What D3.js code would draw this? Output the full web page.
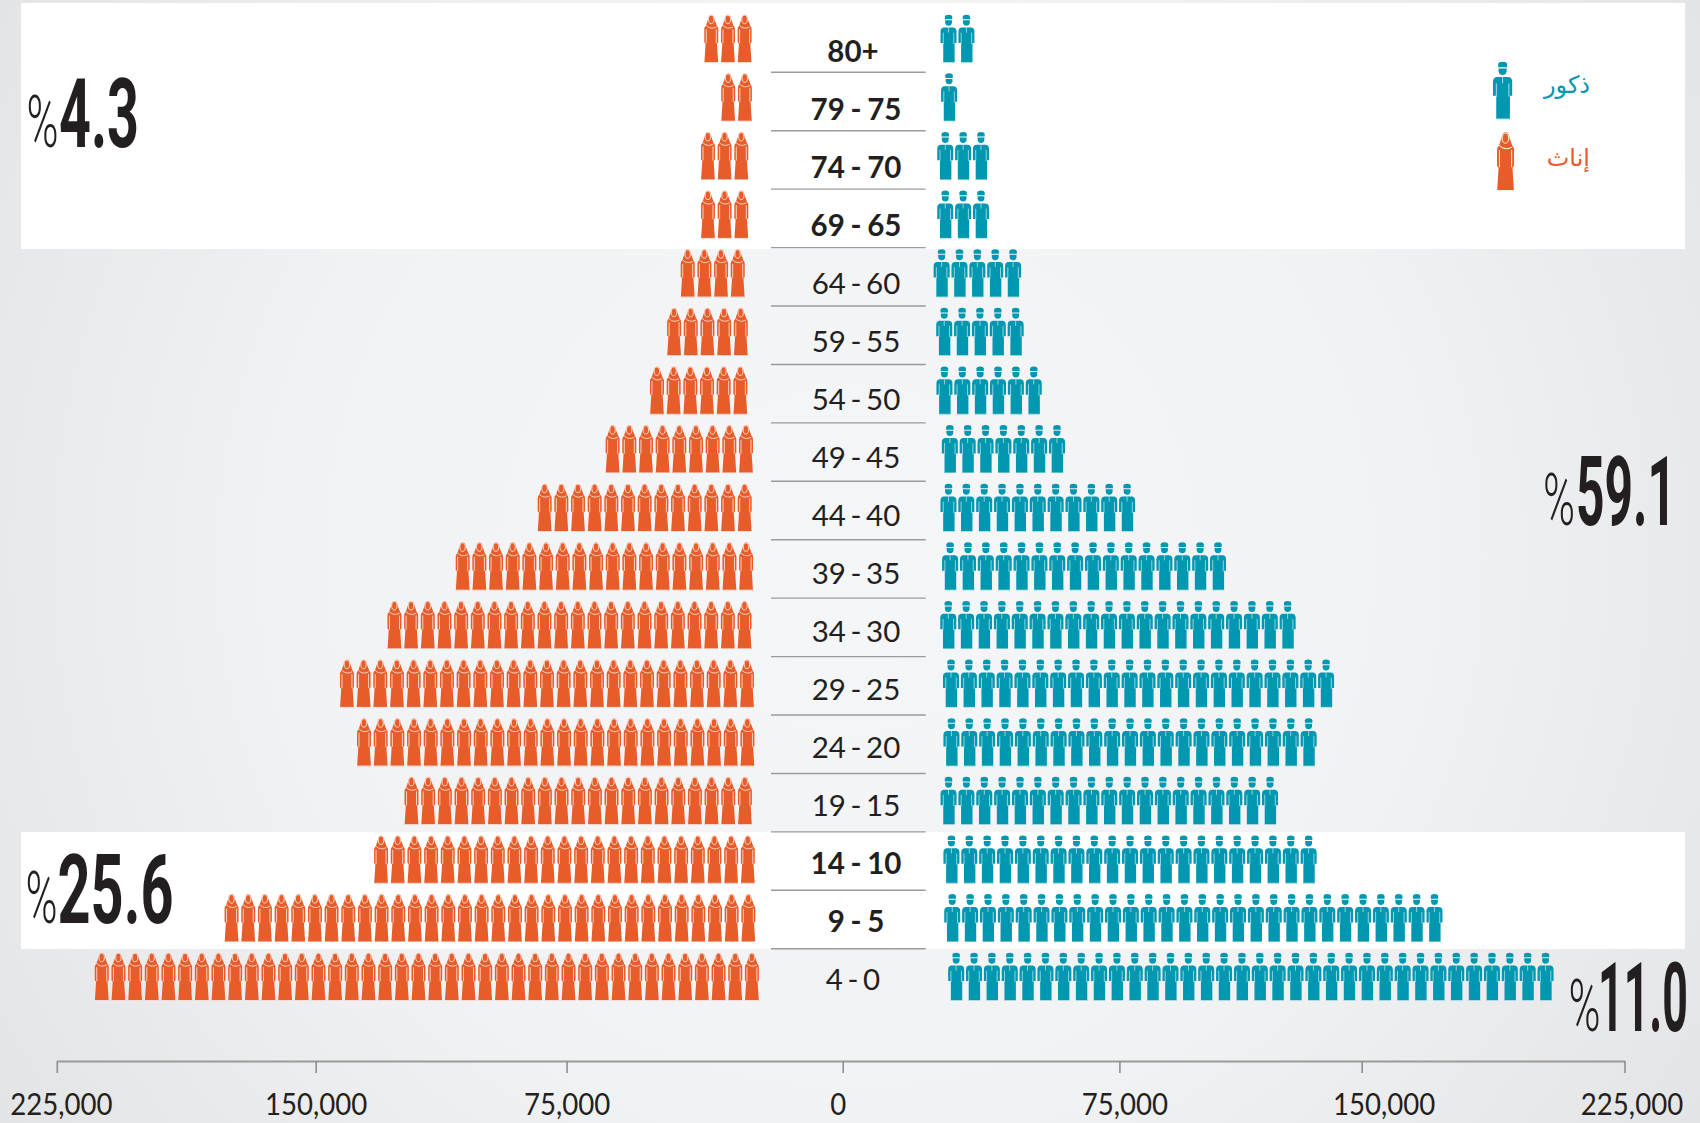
<!DOCTYPE html>
<html lang="ar">
<head>
<meta charset="utf-8">
<title>الهرم السكاني</title>
<script src="https://cdn.jsdelivr.net/npm/d3@7"></script>
<style>
html,body{margin:0;padding:0;background:#eceded}
svg{display:block}
text{fill:#231f20}
</style>
</head>
<body>
<svg id="chart" width="1700" height="1123" viewBox="0 0 1700 1123"></svg>
<script>
// ---- data ----
const ageGroups = ['80+','79 - 75','74 - 70','69 - 65','64 - 60','59 - 55','54 - 50','49 - 45','44 - 40','39 - 35','34 - 30','29 - 25','24 - 20','19 - 15','14 - 10','9 - 5','4 - 0'];
const femaleValues = [37600,33000,38500,38500,44000,47700,52350,64400,83650,108150,128550,142750,137650,123450,132550,176400,214000];
const maleValues   = [35700,31000,39650,39650,48350,49050,53950,60250,79850,108000,129550,141450,136050,124100,136050,173050,204750];
const femaleIcons  = [3,2,3,3,4,5,6,9,13,18,22,25,24,21,23,32,40];
const maleIcons    = [2,1,3,3,5,5,6,7,11,16,20,22,21,19,21,28,34];
const boldGroups   = ['80+','79 - 75','74 - 70','69 - 65','14 - 10','9 - 5'];
const tickValues   = [-225000,-150000,-75000,0,75000,150000,225000];
const shareLabels  = ['4.3','59.1','25.6','11.0'];
const legendLabels = ['ذكور','إناث'];

// ---- layout ----
const W = 1700, H = 1123;
const ORANGE = '#e85c2a', TEAL = '#0097b0', INK = '#231f20';
const femalePitch = 16.67, malePitch = 17.86, maleWidth = 16;
const svg = d3.select('#chart');
const defs = svg.append('defs');

const bg = defs.append('radialGradient').attr('id','bg').attr('gradientUnits','userSpaceOnUse')
  .attr('cx',850).attr('cy',560).attr('r',1020);
bg.append('stop').attr('offset','0').attr('stop-color','#f5f6f8');
bg.append('stop').attr('offset','0.55').attr('stop-color','#f1f2f3');
bg.append('stop').attr('offset','1').attr('stop-color','#e3e4e6');
svg.append('rect').attr('width',W).attr('height',H).attr('fill','url(#bg)');

// white bands
[[3,246],[832,117]].forEach(([y,h]) =>
  svg.append('rect').attr('x',21).attr('y',y).attr('width',1664).attr('height',h).attr('fill','#fff'));

// ---- icons (48 px tall, origin at top-left) ----
const pale = '#ffffff';
const maleG = defs.append('g').attr('id','maleIcon').attr('fill',TEAL);
maleG.append('path').attr('d','M4.3,4.6 V2 Q4.6,0 8,0 Q11.4,0 11.7,2 V4.6 Z');
maleG.append('path').attr('d','M4.6,5.6 H11.4 V8 Q11,11 8,11 Q5,11 4.6,8 Z');
maleG.append('path').attr('d','M3,12.8 H13 Q16,13.2 16,17 V28.4 H14.1 V48 H2.7 V28.4 H0 V17 Q0,13.2 3,12.8 Z');
maleG.append('path').attr('d','M2.75,18 V29.2 M13.25,18 V29.2 M8,12.8 V18 M2.7,47.8 H14.1')
  .attr('fill','none').attr('stroke',pale).attr('stroke-opacity',.72).attr('stroke-width',.8);

const femaleG = defs.append('g').attr('id','femaleIcon').attr('fill',ORANGE);
femaleG.append('path').attr('d','M7,0 C9.2,0 10,2.2 10.4,5 L12.6,11 Q14,12 14,14.5 V27.6 L12.7,29 L13.9,48 H0.1 L1.3,29 L0,27.6 V14.5 Q0,12 1.6,11 L3.6,5 C4,2.2 4.9,0 7,0 Z');
femaleG.append('ellipse').attr('cx',6.9).attr('cy',4.8).attr('rx',2.7).attr('ry',4.2)
  .attr('fill',ORANGE).attr('stroke',pale).attr('stroke-opacity',.85).attr('stroke-width',.9);
femaleG.append('path').attr('d','M1.8,10.6 Q6,15.4 12.2,12.2 M2,14.5 V28.6 M12,14.5 V28.6 M0.1,47.8 H13.9')
  .attr('fill','none').attr('stroke',pale).attr('stroke-opacity',.85).attr('stroke-width',.85);

// ---- scales ----
const x = d3.scaleLinear().domain(tickValues).range([56.8,315.7,566.6,842.7,1119.4,1361.7,1624.5]);
const rowY = d3.scalePoint().domain(ageGroups).range([62.7,1000.7]);
const labelY = d3.scalePoint().domain(ageGroups).range([62,990]);
const ruleY = d3.scalePoint().domain(ageGroups).range([72.3,72.3+58.43*16]);

// ---- separators ----
svg.append('g').selectAll('line').data(ageGroups.slice(0,-1)).join('line')
  .attr('x1',771).attr('x2',925.7).attr('y1',d=>ruleY(d)).attr('y2',d=>ruleY(d))
  .attr('stroke','#9b9b9b').attr('stroke-width',1.4);

// ---- age labels ----
const labelShift = {'80+':-3,'4 - 0':-3};
svg.append('g').selectAll('text').data(ageGroups).join('text')
  .attr('x',d=>856+(labelShift[d]||0)).attr('y',d=>labelY(d))
  .attr('text-anchor','middle').attr('direction','ltr')
  .attr('font-family','Lato, "Noto Sans", sans-serif').attr('font-size',29.5)
  .attr('font-weight',d=>boldGroups.includes(d)?700:400)
  .attr('word-spacing',d=>boldGroups.includes(d)?-1.5:-3)
  .text(d=>d);

// ---- pictogram rows ----
const femaleRows = svg.append('g').selectAll('g').data(ageGroups).join('g')
  .attr('transform',(d,i)=>`translate(${x(-femaleValues[i])},${rowY(d)-48})`);
femaleRows.selectAll('use').data((d,i)=>d3.range(femaleIcons[i])).join('use')
  .attr('href','#femaleIcon').attr('x',k=>k*femalePitch);

const maleRows = svg.append('g').selectAll('g').data(ageGroups).join('g')
  .attr('transform',(d,i)=>`translate(${x(maleValues[i])-maleWidth},${rowY(d)-48})`);
maleRows.selectAll('use').data((d,i)=>d3.range(maleIcons[i])).join('use')
  .attr('href','#maleIcon').attr('x',k=>-k*malePitch);

// ---- axis ----
const tickLabelShift = new Map([[-225000,4],[-150000,0],[-75000,0],[0,-5],[75000,5],[150000,22],[225000,7]]);
const axis = d3.axisBottom(x).tickValues(tickValues).tickSize(12).tickSizeOuter(0)
  .tickFormat(d=>d3.format(',')(Math.abs(d)));
const axisG = svg.append('g').attr('transform','translate(0,1061)').call(axis);
axisG.select('.domain').attr('stroke','#9a9a9a').attr('stroke-width',2.2);
axisG.selectAll('.tick line').attr('stroke','#8f8f8f').attr('stroke-width',1.6);
axisG.selectAll('.tick text')
  .attr('y',54).attr('dy',0).attr('x',d=>tickLabelShift.get(d))
  .attr('font-family','Lato, "Noto Sans", sans-serif').attr('font-size',30).attr('fill',INK)
  .attr('lengthAdjust','spacingAndGlyphs')
  .each(function(){ d3.select(this).attr('textLength', this.getComputedTextLength()*0.92); });

// ---- big share figures: squeezed horizontally to the widths in the picture ----
const sharePlace = [
  {px:26.5,pw:32, dx:59,    dw:80,  y:146.7},
  {px:1543,pw:32, dx:1576,  dw:100, y:525},
  {px:25.5,pw:32, dx:57.5,  dw:116, y:923},
  {px:1568.5,pw:32,dx:1598, dw:90,  y:1031}
];
function squeeze(sel, xKey, wKey){
  sel.each(function(d,i){
    const p = sharePlace[i];
    const sx = p[wKey] / this.getComputedTextLength();
    d3.select(this).attr('transform',`translate(${p[xKey]},${p.y}) scale(${sx},1)`);
  });
}
const shares = svg.append('g').selectAll('g').data(shareLabels).join('g');
shares.append('text').text('%')
  .attr('font-family','Roboto, sans-serif').attr('font-weight',300).attr('font-size',73)
  .call(squeeze,'px','pw');
shares.append('text').text(d=>d)
  .attr('font-family','Roboto, sans-serif').attr('font-weight',700).attr('font-size',97)
  .call(squeeze,'dx','dw');

// ---- legend ----
const legend = svg.append('g');
legend.append('use').attr('href','#maleIcon').attr('transform','translate(1493,61.7) scale(1.2)');
legend.append('use').attr('href','#femaleIcon').attr('transform','translate(1497,132.3) scale(1.22)');
legend.selectAll('text').data(legendLabels).join('text')
  .attr('x',1590).attr('y',(d,i)=>[93,166][i])
  .attr('text-anchor','start').attr('direction','rtl')
  .attr('font-family','"DejaVu Sans", sans-serif').attr('font-size',24)
  .style('fill',(d,i)=>[TEAL,ORANGE][i])
  .text(d=>d);
</script>
</body>
</html>
